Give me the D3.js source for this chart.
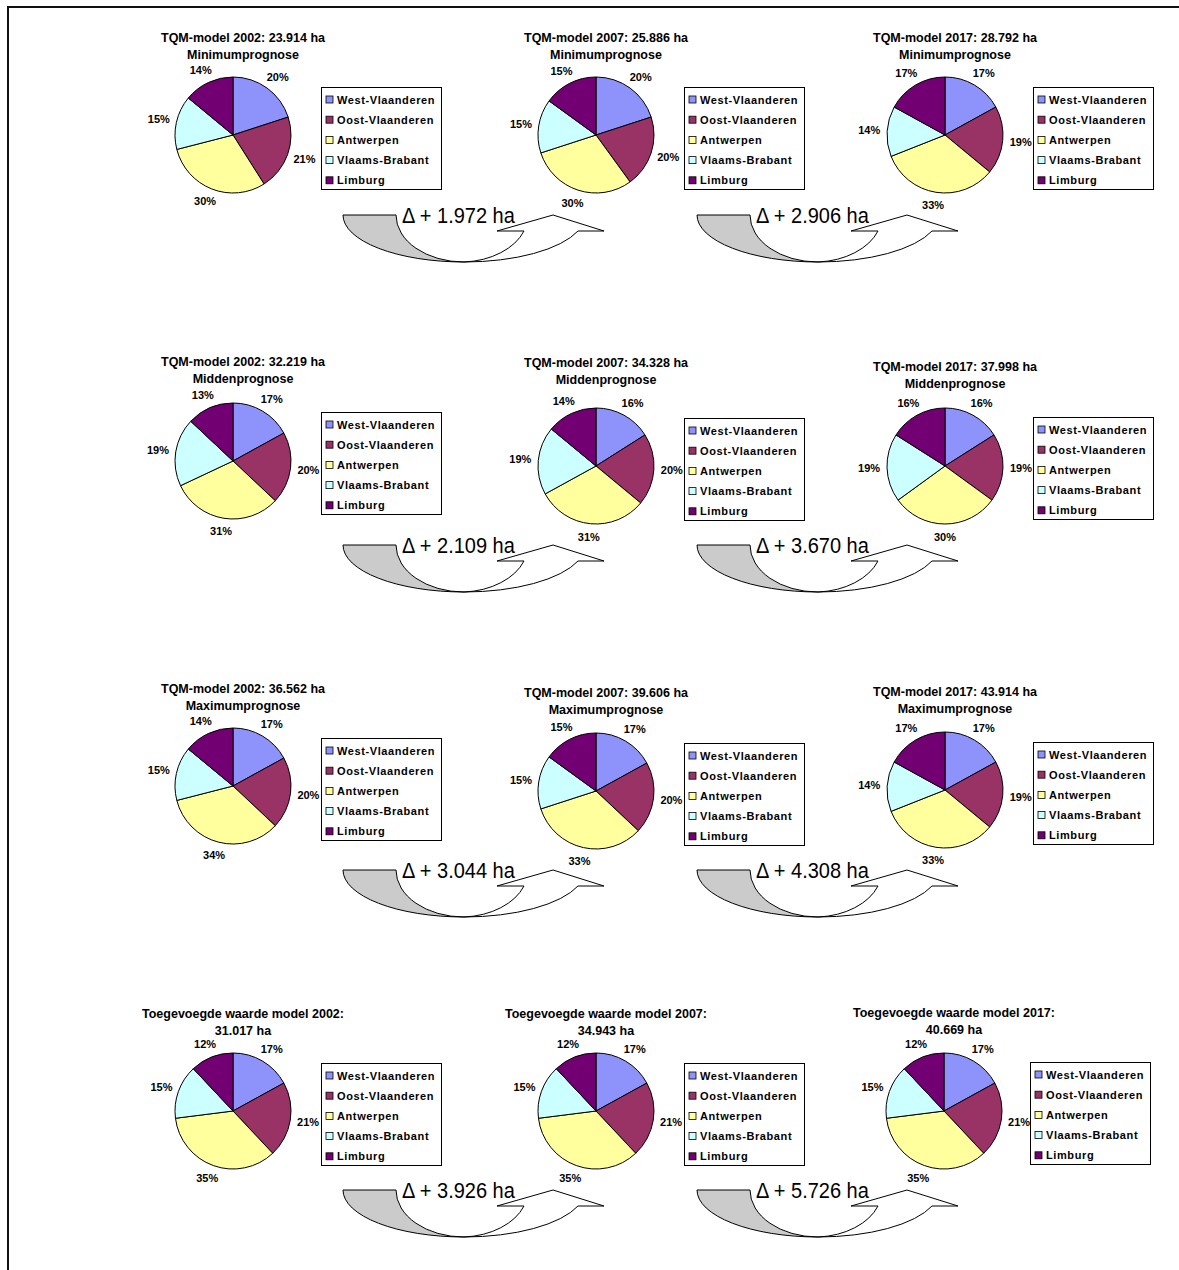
<!DOCTYPE html>
<html>
<head>
<meta charset="utf-8">
<script src="https://cdn.jsdelivr.net/npm/d3@7"></script>
<style>
  html, body { margin: 0; padding: 0; background: #fff; }
  svg { display: block; font-family: Arial, "Liberation Sans", Helvetica, sans-serif; }
</style>
</head>
<body>
<svg id="chart" width="1179" height="1270"></svg>
<script>
// Provinces, in slice order (clockwise from 12 o'clock)
const regions = ["West-Vlaanderen", "Oost-Vlaanderen", "Antwerpen", "Vlaams-Brabant", "Limburg"];
const regionColors = ["#8e93fb", "#993366", "#ffff9e", "#ccffff", "#720072"];

// Model years (columns)
const years = [2002, 2007, 2017];

// Scenarios (rows)
const scenarios = ["Minimumprognose", "Middenprognose", "Maximumprognose", "Toegevoegde waarde"];

// Total area per scenario and year, in hectares
const totalsMinimum = [23914, 25886, 28792];
const totalsMidden = [32219, 34328, 37998];
const totalsMaximum = [36562, 39606, 43914];
const totalsToegevoegd = [31017, 34943, 40669];

// Provincial share (%) per year: West-Vl., Oost-Vl., Antwerpen, Vl.-Brabant, Limburg
const sharesMinimum = [[20, 21, 30, 15, 14], [20, 20, 30, 15, 15], [17, 19, 33, 14, 17]];
const sharesMidden = [[17, 20, 31, 19, 13], [16, 20, 31, 19, 14], [16, 19, 30, 19, 16]];
const sharesMaximum = [[17, 20, 34, 15, 14], [17, 20, 33, 15, 15], [17, 19, 33, 14, 17]];
const sharesToegevoegd = [[17, 21, 35, 15, 12], [17, 21, 35, 15, 12], [17, 21, 35, 15, 12]];

const totals = [totalsMinimum, totalsMidden, totalsMaximum, totalsToegevoegd];
const shares = [sharesMinimum, sharesMidden, sharesMaximum, sharesToegevoegd];

// Page layout: pie centres, title line 1 and legend top, per row and column
const layout = [
  { cx: [233, 596, 945], cy: [135, 135, 135], title: [37, 37, 37], legend: [87, 87, 87], arrow: 215 },
  { cx: [233, 596, 945], cy: [461, 466, 466], title: [361, 362, 366], legend: [412, 418, 417], arrow: 545 },
  { cx: [233, 596, 945], cy: [786, 791, 790], title: [688, 692, 691], legend: [738, 743, 742], arrow: 870 },
  { cx: [233, 596, 944], cy: [1111, 1111, 1111], title: [1013, 1013, 1012], legend: [1063, 1063, 1062], arrow: 1190 }
];
const arrowX = [343, 697];
const R = 58;

const nl = d3.formatLocale({ decimal: ",", thousands: ".", grouping: [3], currency: ["€", ""] });
const fmtHa = nl.format(",d");

const svg = d3.select("#chart");

// Page frame (top and left rule)
svg.append("path")
  .attr("d", "M8,1270 L8,7 L1179,7")
  .attr("fill", "none")
  .attr("stroke", "#111")
  .attr("stroke-width", 2);

const pie = d3.pie().sort(null).value(d => d);
const arc = d3.arc().innerRadius(0).outerRadius(R);

// Curved "up" arrow shape, local coordinates with the top-left corner of the shaded end at the origin
const arrowBack = "M121,47 A68,47 0 0 0 181,16 L154,16 L210,0 L261,16 L235,16 A121,47 0 0 1 121,47 Z";
const arrowFront = "M0,0 L53,0 A68,47 0 0 0 121,47 A121,47 0 0 1 0,0 Z";

scenarios.forEach((scen, row) => {
  const L = layout[row];
  years.forEach((year, col) => {
    const cx = L.cx[col], cy = L.cy[col];
    const g = svg.append("g");
    const total = totals[row][col];

    // Title
    const isTQM = row < 3;
    const line1 = isTQM ? `TQM-model ${year}: ${fmtHa(total)} ha` : `Toegevoegde waarde model ${year}:`;
    const line2 = isTQM ? scen : `${fmtHa(total)} ha`;
    const t = g.append("text")
      .attr("text-anchor", "middle")
      .attr("font-weight", "bold")
      .attr("font-size", 12.5)
      .attr("fill", "#000");
    t.append("tspan").attr("x", cx + 10).attr("y", L.title[col] + 4.5).text(line1);
    t.append("tspan").attr("x", cx + 10).attr("y", L.title[col] + 21.5).text(line2);

    // Pie
    const arcs = pie(shares[row][col]);
    const pg = g.append("g").attr("transform", `translate(${cx},${cy})`);
    pg.selectAll("path")
      .data(arcs)
      .join("path")
      .attr("d", arc)
      .attr("fill", (d, i) => regionColors[i])
      .attr("stroke", "#000")
      .attr("stroke-width", 1);

    // Percentage labels outside the slices
    pg.selectAll("text")
      .data(arcs)
      .join("text")
      .attr("text-anchor", "middle")
      .attr("font-weight", "bold")
      .attr("font-size", 11)
      .attr("dy", "0.35em")
      .attr("x", d => {
        const a = (d.startAngle + d.endAngle) / 2;
        return Math.sin(a) * (R + 7) + Math.sin(a) * 11;
      })
      .attr("y", d => {
        const a = (d.startAngle + d.endAngle) / 2;
        return -Math.cos(a) * (R + 7) - Math.cos(a) * 6.5;
      })
      .text(d => d.data + "%");

    // Legend
    const lx = cx + 88 - (col === 2 && row === 3 ? 2 : 0);
    const ly = L.legend[col];
    const lg = g.append("g").attr("transform", `translate(${lx},${ly})`);
    lg.append("rect")
      .attr("x", 0.5).attr("y", 0.5)
      .attr("width", 120).attr("height", 102)
      .attr("fill", "#fff")
      .attr("stroke", "#000")
      .attr("stroke-width", 1);
    const items = lg.selectAll("g.item")
      .data(regions)
      .join("g")
      .attr("class", "item")
      .attr("transform", (d, i) => `translate(0,${12.5 + i * 20.2})`);
    items.append("rect")
      .attr("x", 5).attr("y", -3.5)
      .attr("width", 7).attr("height", 7)
      .attr("fill", (d, i) => regionColors[i])
      .attr("stroke", "#000")
      .attr("stroke-width", 0.8);
    items.append("text")
      .attr("x", 16).attr("y", 4)
      .attr("font-weight", "bold")
      .attr("font-size", 11)
      .attr("letter-spacing", 0.6)
      .attr("fill", "#000")
      .text(d => d);
  });

  // Growth arrows between consecutive model years
  [0, 1].forEach(k => {
    const ax = arrowX[k], ay = L.arrow;
    const delta = totals[row][k + 1] - totals[row][k];
    const ag = svg.append("g").attr("transform", `translate(${ax},${ay})`);
    ag.append("path").attr("d", arrowBack).attr("fill", "#fff").attr("stroke", "#000").attr("stroke-width", 1);
    ag.append("path").attr("d", arrowFront).attr("fill", "#cbcbcb").attr("stroke", "#000").attr("stroke-width", 1);
    ag.append("text")
      .attr("transform", "translate(59,7.8) scale(1,1.08)")
      .attr("font-size", 20)
      .attr("fill", "#000")
      .text(`Δ + ${fmtHa(delta)} ha`);
  });
});
</script>
</body>
</html>
